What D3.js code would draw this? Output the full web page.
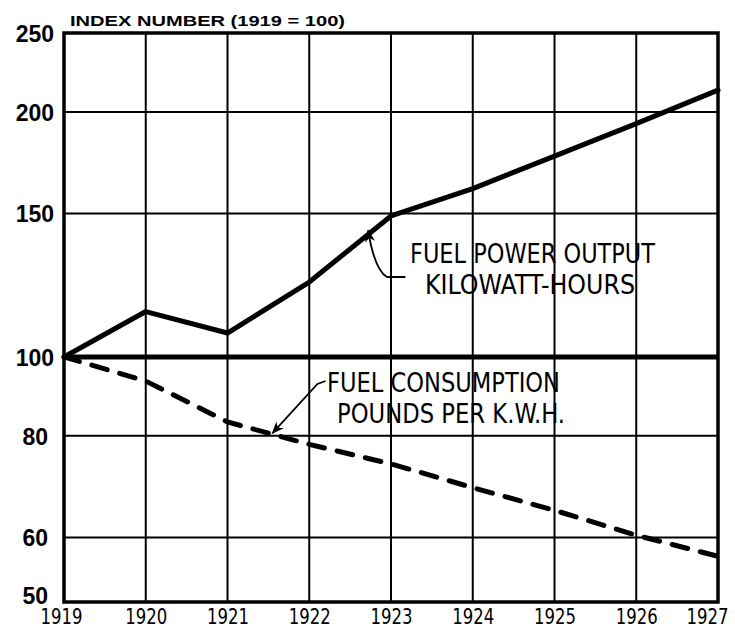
<!DOCTYPE html>
<html>
<head>
<meta charset="utf-8">
<script src="https://cdn.jsdelivr.net/npm/d3@7/dist/d3.min.js"></script>
<style>
  html, body { margin: 0; padding: 0; background: #fff; }
  svg { display: block; }
</style>
</head>
<body>
<script>
// ---- DATA ----
const years = [1919, 1920, 1921, 1922, 1923, 1924, 1925, 1926, 1927];
const powerOutput = [100, 113.7, 107, 123.6, 149, 161, 176.5, 193.5, 212.7];
const fuelConsumption = [100, 93.4, 83.2, 78.1, 73.9, 69.1, 64.8, 60.4, 56.9];
const yTicks = [50, 60, 80, 100, 150, 200, 250];
const yGrid = [60, 80, 150, 200];
const axisTitle = "INDEX NUMBER  (1919 = 100)";
const powerLabel = ["FUEL POWER OUTPUT", "KILOWATT-HOURS"];
const consumptionLabel = ["FUEL CONSUMPTION", "POUNDS PER K.W.H."];

// ---- CHART ----
const W = 735, H = 634;
const svg = d3.select("body").append("svg").attr("width", W).attr("height", H);

const x = d3.scaleLinear().domain([1919, 1927]).range([64, 718]);
const y = d3.scaleLog().domain([50, 250]).range([602, 33]);

const ink = "#000";

// vertical gridlines
svg.append("g").selectAll("line").data(years.slice(1, -1)).join("line")
  .attr("x1", d => x(d)).attr("x2", d => x(d))
  .attr("y1", y(250)).attr("y2", y(50))
  .attr("stroke", ink).attr("stroke-width", 2);

// horizontal gridlines
svg.append("g").selectAll("line").data(yGrid).join("line")
  .attr("x1", x(1919)).attr("x2", x(1927))
  .attr("y1", d => y(d)).attr("y2", d => y(d))
  .attr("stroke", ink).attr("stroke-width", 2);

// heavy base line at 100
svg.append("line")
  .attr("x1", x(1919)).attr("x2", x(1927))
  .attr("y1", y(100)).attr("y2", y(100))
  .attr("stroke", ink).attr("stroke-width", 5);

// frame
svg.append("rect")
  .attr("x", x(1919)).attr("y", y(250))
  .attr("width", x(1927) - x(1919)).attr("height", y(50) - y(250))
  .attr("fill", "none").attr("stroke", ink).attr("stroke-width", 3.5);

// y-axis labels
const yAxis = d3.axisLeft(y).tickValues(yTicks).tickFormat(d3.format("d")).tickSize(0).tickPadding(9);
const gy = svg.append("g").attr("transform", `translate(${x(1919)},0)`).call(yAxis);
gy.select(".domain").remove();
gy.selectAll("text")
  .attr("font-family", "Liberation Sans, Arial, sans-serif")
  .attr("font-weight", "bold").attr("font-size", 23).attr("fill", ink)
  .attr("x", d => d < 100 ? -16 : -10)
  .attr("dy", d => d === 50 ? "0.05em" : "0.36em");

// x-axis labels
const xAxis = d3.axisBottom(x).tickValues(years).tickFormat(d3.format("d")).tickSize(0).tickPadding(7);
const gx = svg.append("g").attr("transform", `translate(0,${y(50)})`).call(xAxis);
gx.select(".domain").remove();
gx.selectAll("text")
  .attr("font-family", "Liberation Sans Narrow, DejaVu Sans Condensed, Arial Narrow, sans-serif")
  .attr("font-size", 21).attr("fill", ink)
  .attr("x", d => d === 1927 ? -11 : (d === 1919 ? -3 : 0))
  .attr("textLength", 42).attr("lengthAdjust", "spacingAndGlyphs");

// axis title
svg.append("text")
  .attr("x", 70).attr("y", 26)
  .attr("font-family", "Liberation Sans, Arial, sans-serif")
  .attr("font-weight", "bold").attr("font-size", 15)
  .attr("textLength", 275).attr("lengthAdjust", "spacingAndGlyphs")
  .attr("fill", ink)
  .text(axisTitle);

// lines
const line = d3.line().x((d, i) => x(years[i])).y(d => y(d));

svg.append("path").datum(powerOutput)
  .attr("d", line).attr("fill", "none")
  .attr("stroke", ink).attr("stroke-width", 5)
  .attr("stroke-linejoin", "round").attr("stroke-linecap", "round");

svg.append("path").datum(fuelConsumption)
  .attr("d", line).attr("fill", "none")
  .attr("stroke", ink).attr("stroke-width", 5)
  .attr("stroke-dasharray", "16,13").attr("stroke-linecap", "round");

// annotations
const annFont = "Liberation Sans Narrow, DejaVu Sans Condensed, Arial Narrow, sans-serif";
function label(lines, y0, lengths, xs) {
  lines.forEach((t, i) => {
    svg.append("text")
      .attr("x", xs[i]).attr("y", y0 + i * 31)
      .attr("font-family", annFont).attr("font-size", 26)
      .attr("textLength", lengths[i]).attr("lengthAdjust", "spacingAndGlyphs")
      .attr("fill", ink)
      .text(t);
  });
}
label(powerLabel, 263, [245, 210], [410, 425]);
label(consumptionLabel, 392, [233, 228], [327, 337]);

// arrow marker
const defs = svg.append("defs");
defs.append("marker").attr("id", "arr")
  .attr("viewBox", "0 0 10 10").attr("refX", 9).attr("refY", 5)
  .attr("markerWidth", 7).attr("markerHeight", 7)
  .attr("orient", "auto-start-reverse")
  .append("path").attr("d", "M0,1 L10,5 L0,9 L3,5 Z").attr("fill", ink);

// leader: power output
svg.append("path")
  .attr("d", `M${x(1923.25) - 6},277 L${x(1922.95)},277 Q${x(1922.8)},270 ${x(1922.72)},${y(143)}`)
  .attr("fill", "none").attr("stroke", ink).attr("stroke-width", 1.8)
  .attr("marker-end", "url(#arr)");

// leader: fuel consumption
svg.append("path")
  .attr("d", `M${x(1922.2)},381 L${x(1922.1)},384 L${x(1921.55)},${y(80.6)}`)
  .attr("fill", "none").attr("stroke", ink).attr("stroke-width", 1.8)
  .attr("marker-end", "url(#arr)");
</script>
</body>
</html>
